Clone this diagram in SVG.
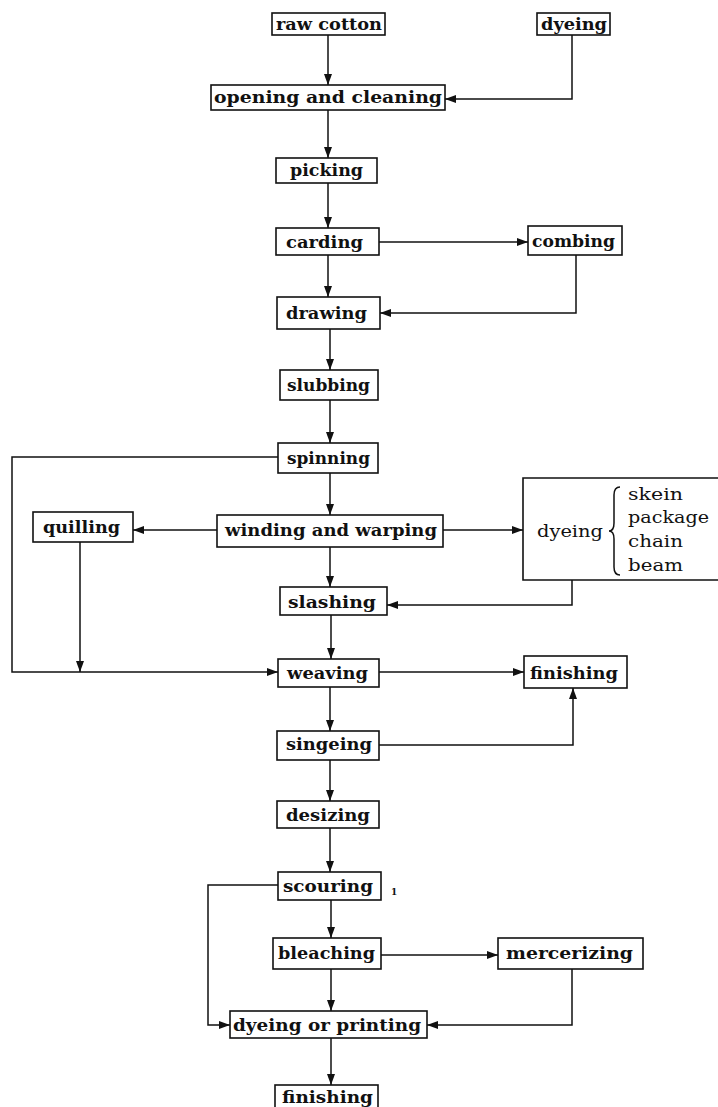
<svg xmlns="http://www.w3.org/2000/svg" width="718" height="1107" viewBox="0 0 718 1107">
<style>
.box{fill:#fff;stroke:#111;stroke-width:1.6}
.t{font-family:"DejaVu Serif","Liberation Serif",serif;font-size:17px;font-weight:bold;fill:#111}
.l{font-family:"DejaVu Serif","Liberation Serif",serif;font-size:17px;fill:#111}
.c{fill:none;stroke:#111;stroke-width:1.5}
</style>
<defs>
<marker id="a" markerUnits="userSpaceOnUse" markerWidth="11" markerHeight="8" refX="11" refY="4" orient="auto">
<path d="M0,0 L11,4 L0,8 z" fill="#111"/>
</marker>
</defs>
<rect width="718" height="1107" fill="#fff"/>
<g id="connectors">
<path class="c" d="M328,35 V85" marker-end="url(#a)"/>
<path class="c" d="M572,35 V99 H445" marker-end="url(#a)"/>
<path class="c" d="M328,110 V158" marker-end="url(#a)"/>
<path class="c" d="M328,183 V228" marker-end="url(#a)"/>
<path class="c" d="M379,242 H528" marker-end="url(#a)"/>
<path class="c" d="M328,255 V297" marker-end="url(#a)"/>
<path class="c" d="M576,255 V313 H380" marker-end="url(#a)"/>
<path class="c" d="M330,329 V370" marker-end="url(#a)"/>
<path class="c" d="M330,400 V443" marker-end="url(#a)"/>
<path class="c" d="M330,473 V515" marker-end="url(#a)"/>
<path class="c" d="M217,530 H133" marker-end="url(#a)"/>
<path class="c" d="M443,530 H523" marker-end="url(#a)"/>
<path class="c" d="M330,547 V587" marker-end="url(#a)"/>
<path class="c" d="M572,580 V605 H387" marker-end="url(#a)"/>
<path class="c" d="M278,457 H12 V672 H278" marker-end="url(#a)"/>
<path class="c" d="M80,542 V672" marker-end="url(#a)"/>
<path class="c" d="M331,615 V659" marker-end="url(#a)"/>
<path class="c" d="M379,672 H524" marker-end="url(#a)"/>
<path class="c" d="M330,687 V731" marker-end="url(#a)"/>
<path class="c" d="M379,745 H573 V688" marker-end="url(#a)"/>
<path class="c" d="M330,760 V801" marker-end="url(#a)"/>
<path class="c" d="M330,828 V872" marker-end="url(#a)"/>
<path class="c" d="M278,885 H208 V1025 H230" marker-end="url(#a)"/>
<path class="c" d="M331,900 V938" marker-end="url(#a)"/>
<path class="c" d="M381,955 H498" marker-end="url(#a)"/>
<path class="c" d="M331,969 V1011" marker-end="url(#a)"/>
<path class="c" d="M572,969 V1025 H427" marker-end="url(#a)"/>
<path class="c" d="M331,1038 V1085" marker-end="url(#a)"/>
</g>
<g id="raw-cotton"><rect class="box" x="272" y="13" width="113" height="22"/><text class="t" x="276" y="30" textLength="106" lengthAdjust="spacingAndGlyphs">raw cotton</text></g>
<g id="dyeing-top"><rect class="box" x="537" y="13" width="73" height="22"/><text class="t" x="541" y="30" textLength="66" lengthAdjust="spacingAndGlyphs">dyeing</text></g>
<g id="opening"><rect class="box" x="211" y="85" width="234" height="25"/><text class="t" x="214" y="103" textLength="228" lengthAdjust="spacingAndGlyphs">opening and cleaning</text></g>
<g id="picking"><rect class="box" x="276" y="158" width="101" height="25"/><text class="t" x="290" y="176" textLength="73" lengthAdjust="spacingAndGlyphs">picking</text></g>
<g id="carding"><rect class="box" x="276" y="228" width="103" height="27"/><text class="t" x="286" y="248" textLength="77" lengthAdjust="spacingAndGlyphs">carding</text></g>
<g id="combing"><rect class="box" x="528" y="226" width="94" height="29"/><text class="t" x="532" y="247" textLength="83" lengthAdjust="spacingAndGlyphs">combing</text></g>
<g id="drawing"><rect class="box" x="277" y="297" width="103" height="32"/><text class="t" x="286" y="319" textLength="81" lengthAdjust="spacingAndGlyphs">drawing</text></g>
<g id="slubbing"><rect class="box" x="280" y="370" width="98" height="30"/><text class="t" x="287" y="391" textLength="83" lengthAdjust="spacingAndGlyphs">slubbing</text></g>
<g id="spinning"><rect class="box" x="278" y="443" width="100" height="30"/><text class="t" x="287" y="464" textLength="83" lengthAdjust="spacingAndGlyphs">spinning</text></g>
<g id="winding"><rect class="box" x="217" y="515" width="226" height="32"/><text class="t" x="225" y="536" textLength="212" lengthAdjust="spacingAndGlyphs">winding and warping</text></g>
<g id="quilling"><rect class="box" x="33" y="512" width="100" height="30"/><text class="t" x="43" y="533" textLength="77" lengthAdjust="spacingAndGlyphs">quilling</text></g>
<g id="dyeing-box">
<path class="box" d="M725,478 H523 V580 H725"/>
<text class="l" x="537" y="537" textLength="66" lengthAdjust="spacingAndGlyphs">dyeing</text>
<path class="c" d="M620,487 Q614,487 614,495 L614,523 Q614,531 609,531 Q614,531 614,539 L614,567 Q614,575 620,575"/>
<text class="l" x="628" y="500" textLength="55" lengthAdjust="spacingAndGlyphs">skein</text>
<text class="l" x="628" y="523" textLength="81" lengthAdjust="spacingAndGlyphs">package</text>
<text class="l" x="628" y="547" textLength="55" lengthAdjust="spacingAndGlyphs">chain</text>
<text class="l" x="628" y="571" textLength="55" lengthAdjust="spacingAndGlyphs">beam</text>
</g>
<g id="slashing"><rect class="box" x="280" y="587" width="107" height="28"/><text class="t" x="288" y="608" textLength="88" lengthAdjust="spacingAndGlyphs">slashing</text></g>
<g id="weaving"><rect class="box" x="278" y="659" width="101" height="28"/><text class="t" x="287" y="679" textLength="81" lengthAdjust="spacingAndGlyphs">weaving</text></g>
<g id="finishing-right"><rect class="box" x="524" y="656" width="103" height="32"/><text class="t" x="530" y="679" textLength="88" lengthAdjust="spacingAndGlyphs">finishing</text></g>
<g id="singeing"><rect class="box" x="277" y="731" width="102" height="29"/><text class="t" x="286" y="750" textLength="86" lengthAdjust="spacingAndGlyphs">singeing</text></g>
<g id="desizing"><rect class="box" x="277" y="801" width="102" height="27"/><text class="t" x="286" y="821" textLength="84" lengthAdjust="spacingAndGlyphs">desizing</text></g>
<g id="scouring"><rect class="box" x="278" y="872" width="103" height="28"/><text class="t" x="283" y="892" textLength="90" lengthAdjust="spacingAndGlyphs">scouring</text><text class="l" x="391" y="895" style="font-size:9px;font-weight:bold">1</text></g>
<g id="bleaching"><rect class="box" x="273" y="938" width="108" height="31"/><text class="t" x="278" y="959" textLength="97" lengthAdjust="spacingAndGlyphs">bleaching</text></g>
<g id="mercerizing"><rect class="box" x="498" y="938" width="145" height="31"/><text class="t" x="506" y="959" textLength="127" lengthAdjust="spacingAndGlyphs">mercerizing</text></g>
<g id="dyeing-printing"><rect class="box" x="230" y="1011" width="197" height="27"/><text class="t" x="233" y="1031" textLength="188" lengthAdjust="spacingAndGlyphs">dyeing or printing</text></g>
<g id="finishing-bottom"><rect class="box" x="275" y="1085" width="103" height="30"/><text class="t" x="282" y="1103" textLength="91" lengthAdjust="spacingAndGlyphs">finishing</text></g>
</svg>
